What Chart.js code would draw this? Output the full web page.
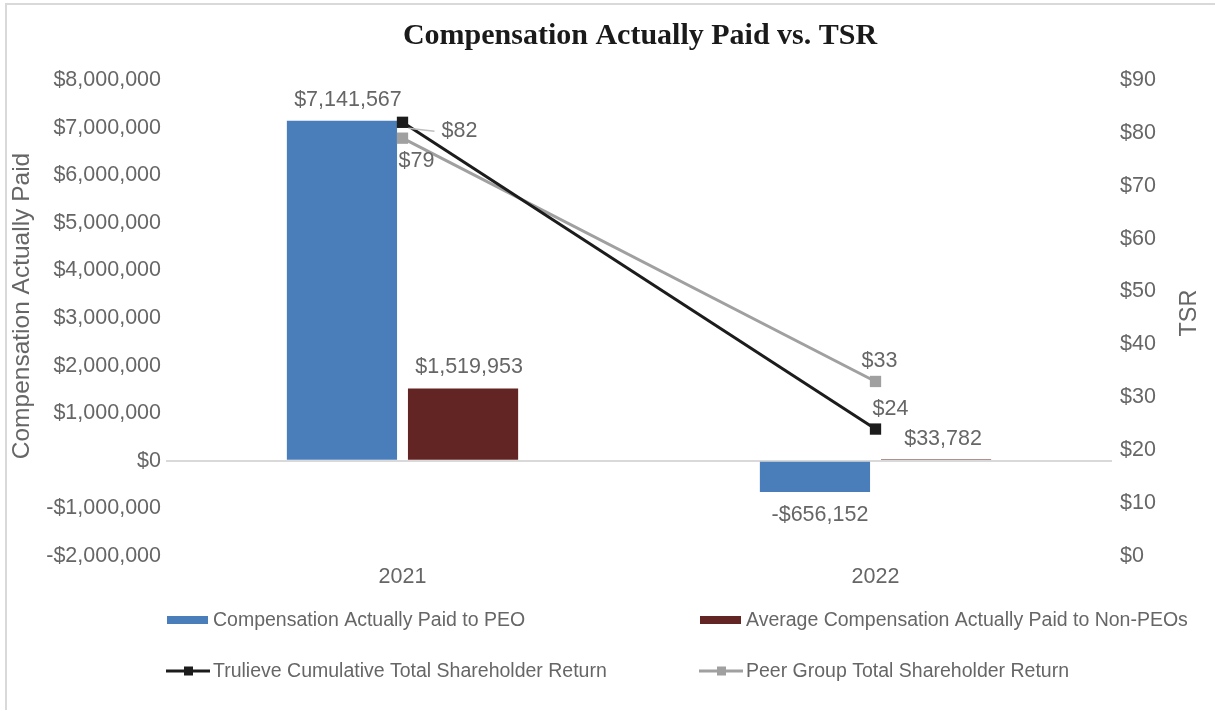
<!DOCTYPE html>
<html><head><meta charset="utf-8">
<script src="https://cdn.jsdelivr.net/npm/chart.js@4/dist/chart.umd.min.js"></script>
<style>html,body{margin:0;padding:0;background:#fff}#wrap{width:1215px;height:710px;position:relative}</style>
</head><body><div id="wrap"><canvas id="c" width="1215" height="710"></canvas></div>
<script>
// ---- data ----
const categories = ['2021', '2022'];
const peoComp = [7141567, -656152];
const nonPeoComp = [1519953, 33782];
const trulieveTSR = [82, 24];
const peerTSR = [79, 33];
const compAxis = { min: -2000000, max: 8000000, step: 1000000 };
const tsrAxis = { min: 0, max: 90, step: 10 };
const seriesNames = [
  'Compensation Actually Paid to PEO',
  'Average Compensation Actually Paid to Non-PEOs',
  'Trulieve Cumulative Total Shareholder Return',
  'Peer Group Total Shareholder Return'
];
const chartTitle = 'Compensation Actually Paid vs. TSR';
const leftTitle = 'Compensation Actually Paid';
const rightTitle = 'TSR';

// ---- styles ----
const GREY_TXT = '#666666';
const SANS = '"Liberation Sans", Arial, sans-serif';
const BLUE = '#4a7ebb', MAROON = '#632523', BLACK = '#1c1c1c', GREY = '#a0a0a0';

function money(v) {
  const s = Math.abs(Math.round(v)).toLocaleString('en-US');
  return (v < 0 ? '-$' : '$') + s;
}

const framePlugin = {
  id: 'frame',
  beforeDraw(chart) {
    const c = chart.ctx; c.save();
    c.strokeStyle = '#d9d9d9'; c.lineWidth = 2;
    c.strokeRect(6, 4, 1240, 740);
    c.restore();
  },
  afterDraw(chart) {
    const c = chart.ctx; c.save();
    c.font = 'bold 30px "Liberation Serif", "DejaVu Serif", serif';
    c.fillStyle = '#1a1a1a'; c.textAlign = 'center'; c.textBaseline = 'middle';
    c.fillText(chartTitle, 640, 36);
    c.restore();
  }
};

const labelPlugin = {
  id: 'valueLabels',
  afterDatasetsDraw(chart) {
    const c = chart.ctx; c.save();
    c.font = '21.5px ' + SANS; c.fillStyle = GREY_TXT; c.textBaseline = 'middle';
    chart.data.datasets.forEach((ds, di) => {
      const meta = chart.getDatasetMeta(di);
      meta.data.forEach((el, i) => {
        const v = ds.data[i];
        const p = ds.labelOffsets[i];
        c.textAlign = p.align || 'center';
        if (p.leader) {
          c.save(); c.strokeStyle = '#bfbfbf'; c.lineWidth = 1.5;
          c.beginPath(); c.moveTo(el.x + p.leader[0], el.y + p.leader[1]);
          c.lineTo(el.x + p.leader[2], el.y + p.leader[3]); c.stroke(); c.restore();
        }
        c.fillText(money(v), el.x + p.dx, el.y + p.dy);
      });
    });
    c.restore();
  }
};

const axisTitlePlugin = {
  id: 'axisTitles',
  afterDraw(chart) {
    const c = chart.ctx; const a = chart.chartArea; c.save();
    c.fillStyle = GREY_TXT; c.textAlign = 'center'; c.textBaseline = 'middle';
    c.font = '24.5px ' + SANS;
    c.save(); c.translate(a.left - 144, 306); c.rotate(-Math.PI / 2); c.fillText(leftTitle, 0, 0); c.restore();
    c.font = '23.5px ' + SANS;
    c.save(); c.translate(a.right + 78, 313); c.rotate(-Math.PI / 2); c.fillText(rightTitle, 0, 0); c.restore();
    c.restore();
  }
};

const legendPlugin = {
  id: 'gridLegend',
  afterDraw(chart) {
    const c = chart.ctx; c.save();
    const order = [0, 1, 2, 3];
    const cols = [166, 699], rows = [620, 671];
    c.font = '19.5px ' + SANS; c.textBaseline = 'middle'; c.textAlign = 'left';
    order.forEach((di, k) => {
      const ds = chart.data.datasets[di];
      const x = cols[k % 2], y = rows[Math.floor(k / 2)];
      if (ds.type === 'bar') {
        c.fillStyle = ds.backgroundColor; c.fillRect(x + 1, y - 4, 41, 8);
      } else {
        c.strokeStyle = ds.borderColor; c.lineWidth = 3;
        c.beginPath(); c.moveTo(x, y); c.lineTo(x + 44, y); c.stroke();
        c.fillStyle = ds.borderColor; c.fillRect(x + 18, y - 4.5, 9, 9);
      }
      c.fillStyle = GREY_TXT; c.fillText(ds.label, x + 47, y + 1);
    });
    c.restore();
  }
};

new Chart(document.getElementById('c'), {
  data: {
    labels: categories,
    datasets: [
      { type: 'bar', label: seriesNames[0], data: peoComp, backgroundColor: BLUE, yAxisID: 'y', order: 2,
        barPercentage: 0.91, categoryPercentage: 0.512,
        labelOffsets: [{ dx: 6, dy: -21 }, { dx: 5, dy: 23 }] },
      { type: 'bar', label: seriesNames[1], data: nonPeoComp, backgroundColor: MAROON, yAxisID: 'y', order: 2,
        barPercentage: 0.91, categoryPercentage: 0.512,
        labelOffsets: [{ dx: 6, dy: -21 }, { dx: 7, dy: -20 }] },
      { type: 'line', label: seriesNames[2], data: trulieveTSR, borderColor: BLACK, backgroundColor: BLACK,
        borderWidth: 3, pointStyle: 'rect', pointRadius: 8, pointHoverRadius: 8, pointBackgroundColor: BLACK,
        pointBorderWidth: 0, yAxisID: 'y1', order: 0,
        labelOffsets: [{ dx: 39, dy: 9, align: 'left', leader: [6, 6, 32, 9] }, { dx: 15, dy: -20 }] },
      { type: 'line', label: seriesNames[3], data: peerTSR, borderColor: GREY, backgroundColor: GREY,
        borderWidth: 3, pointStyle: 'rect', pointRadius: 8, pointHoverRadius: 8, pointBackgroundColor: GREY,
        pointBorderWidth: 0, yAxisID: 'y1', order: 1,
        labelOffsets: [{ dx: 14, dy: 23 }, { dx: 4, dy: -20 }] }
    ]
  },
  options: {
    responsive: false, animation: false, devicePixelRatio: 1,
    layout: { padding: { left: 8, right: 0, top: 80, bottom: 114 } },
    plugins: {
      legend: { display: false }, tooltip: { enabled: false }, title: { display: false }
    },
    scales: {
      x: {
        grid: { display: false, drawTicks: false }, border: { display: false },
        ticks: { font: { family: SANS, size: 21.5 }, color: GREY_TXT, padding: 8 },
        afterFit(s) { s.height = 40; }
      },
      y: {
        position: 'left', min: compAxis.min, max: compAxis.max,
        ticks: { stepSize: compAxis.step, callback: v => money(v), font: { family: SANS, size: 21.5 }, color: GREY_TXT, padding: 5 },
        grid: { color: ctx => (ctx.tick && ctx.tick.value === 0) ? '#d9d9d9' : 'rgba(0,0,0,0)', lineWidth: 2, drawTicks: false },
        border: { display: false },
        afterFit(s) { s.width = 158; }
      },
      y1: {
        position: 'right', min: tsrAxis.min, max: tsrAxis.max,
        ticks: { stepSize: tsrAxis.step, callback: v => money(v), font: { family: SANS, size: 21.5 }, color: GREY_TXT, padding: 8 },
        grid: { display: false, drawTicks: false }, border: { display: false },
        afterFit(s) { s.width = 103; }
      }
    }
  },
  plugins: [framePlugin, labelPlugin, axisTitlePlugin, legendPlugin]
});
</script></body></html>
